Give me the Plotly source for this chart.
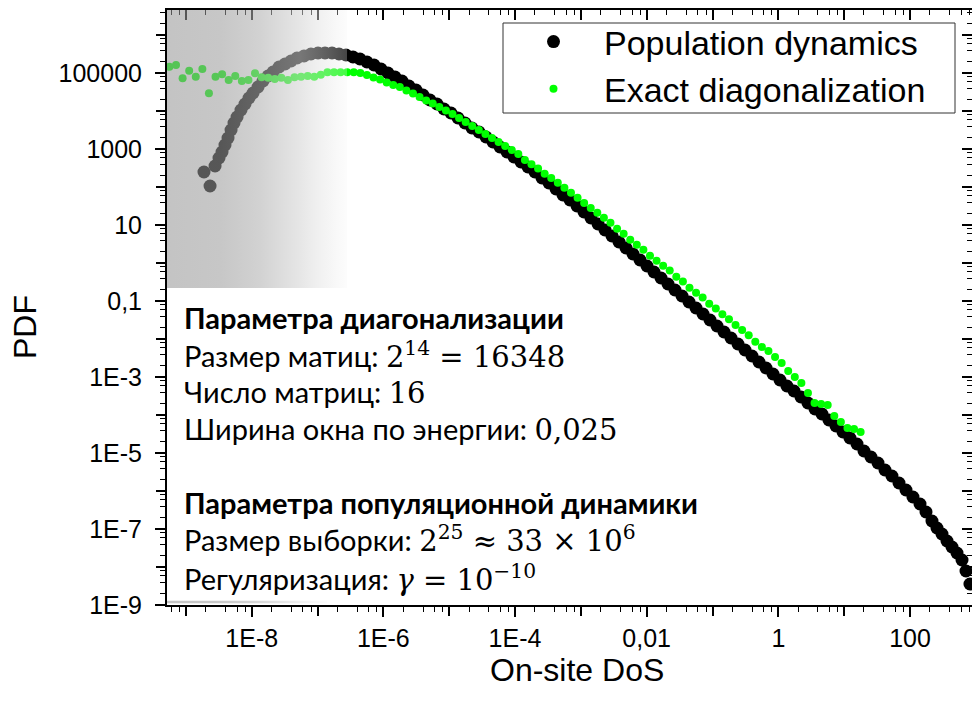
import base64
import plotly.graph_objects as go

# ---------------- data (log10 values) ----------------
series_names = ["Population dynamics", "Exact diagonalization"]

pop_log_dos = [-8.725, -8.633, -8.557, -8.497, -8.451, -8.406, -8.360, -8.314, -8.269, -8.223,
               -8.163, -8.102, -8.041, -7.980, -7.904, -7.828, -7.752, -7.676, -7.585, -7.494,
               -7.403, -7.312, -7.206, -7.100, -6.993, -6.887, -6.780, -6.674, -6.568, -6.461,
               -6.355, -6.249, -6.142, -6.036, -5.930, -5.823, -5.717, -5.611, -5.504, -5.398,
               -5.292, -5.185, -5.079, -4.973, -4.866, -4.760, -4.654, -4.547, -4.441, -4.335,
               -4.228, -4.122, -4.016, -3.909, -3.803, -3.697, -3.590, -3.484, -3.377, -3.271,
               -3.165, -3.058, -2.952, -2.846, -2.739, -2.633, -2.527, -2.420, -2.314, -2.208,
               -2.101, -1.995, -1.889, -1.782, -1.676, -1.570, -1.463, -1.357, -1.251, -1.144,
               -1.038, -0.932, -0.825, -0.719, -0.613, -0.506, -0.400, -0.294, -0.187, -0.081,
               0.025, 0.131, 0.238, 0.344, 0.450, 0.557, 0.663, 0.769, 0.876, 0.982,
               1.088, 1.195, 1.301, 1.407, 1.514, 1.620, 1.726, 1.833, 1.939, 2.045,
               2.152, 2.243, 2.334, 2.410, 2.486, 2.562, 2.638, 2.714, 2.790, 2.851, 2.911]
pop_log_pdf = [2.395, 2.026, 2.553, 2.763, 2.921, 3.105, 3.289, 3.500, 3.684, 3.842,
               4.026, 4.184, 4.342, 4.474, 4.632, 4.789, 4.921, 5.026, 5.158, 5.237,
               5.316, 5.395, 5.447, 5.500, 5.526, 5.526, 5.526, 5.500, 5.474, 5.421,
               5.368, 5.289, 5.211, 5.105, 5.000, 4.895, 4.789, 4.658, 4.553, 4.421,
               4.289, 4.184, 4.053, 3.947, 3.816, 3.684, 3.553, 3.447, 3.316, 3.184,
               3.053, 2.921, 2.789, 2.658, 2.526, 2.395, 2.237, 2.105, 1.947, 1.789,
               1.658, 1.500, 1.342, 1.184, 1.026, 0.868, 0.711, 0.553, 0.395, 0.237,
               0.079, -0.079, -0.237, -0.395, -0.553, -0.711, -0.868, -1.026, -1.184, -1.342,
               -1.500, -1.658, -1.816, -1.974, -2.132, -2.289, -2.447, -2.605, -2.763, -2.921,
               -3.079, -3.237, -3.368, -3.526, -3.684, -3.842, -3.974, -4.132, -4.289, -4.447,
               -4.605, -4.763, -4.947, -5.105, -5.263, -5.447, -5.605, -5.789, -5.974, -6.158,
               -6.342, -6.553, -6.789, -6.974, -7.132, -7.316, -7.474, -7.632, -7.816, -8.105, -8.447]

ed_log_dos = [-9.25, -9.15, -9.05, -8.95, -8.85, -8.75, -8.65, -8.55, -8.45, -8.35,
              -8.25, -8.15, -8.05, -7.95, -7.85, -7.75, -7.65, -7.55, -7.45, -7.35,
              -7.25, -7.15, -7.05, -6.95, -6.85, -6.75, -6.65, -6.55, -6.45, -6.35,
              -6.25, -6.15, -6.05, -5.95, -5.85, -5.75, -5.65, -5.55, -5.45, -5.35,
              -5.25, -5.15, -5.05, -4.95, -4.85, -4.75, -4.65, -4.55, -4.45, -4.35,
              -4.25, -4.15, -4.05, -3.95, -3.85, -3.75, -3.65, -3.55, -3.45, -3.35,
              -3.25, -3.15, -3.05, -2.95, -2.85, -2.75, -2.65, -2.55, -2.45, -2.35,
              -2.25, -2.15, -2.05, -1.95, -1.85, -1.75, -1.65, -1.55, -1.45, -1.35,
              -1.25, -1.15, -1.05, -0.95, -0.85, -0.75, -0.65, -0.55, -0.45, -0.35,
              -0.25, -0.15, -0.05, 0.05, 0.15, 0.25, 0.35, 0.45, 0.55, 0.65,
              0.75, 0.85, 0.95, 1.05, 1.15, 1.25]
ed_log_pdf = [5.166, 5.211, 4.861, 5.061, 4.903, 5.105, 4.466, 4.903, 4.966, 4.816,
              4.921, 4.789, 4.816, 4.992, 4.887, 4.876, 4.842, 4.876, 4.816, 4.887,
              4.903, 4.921, 4.903, 4.955, 5.018, 5.018, 5.018, 5.018, 5.018, 5.000,
              4.947, 4.882, 4.829, 4.750, 4.684, 4.632, 4.539, 4.461, 4.368, 4.276,
              4.197, 4.105, 4.013, 3.921, 3.816, 3.711, 3.605, 3.500, 3.395, 3.289,
              3.184, 3.079, 2.974, 2.868, 2.710, 2.600, 2.490, 2.350, 2.240, 2.110,
              1.980, 1.850, 1.720, 1.580, 1.450, 1.320, 1.190, 1.060, 0.900, 0.770,
              0.610, 0.480, 0.350, 0.190, 0.060, -0.070, -0.200, -0.360, -0.490, -0.650,
              -0.780, -0.910, -1.070, -1.200, -1.350, -1.480, -1.630, -1.760, -1.900, -2.070,
              -2.210, -2.316, -2.474, -2.632, -2.842, -3.000, -3.158, -3.421, -3.684, -3.711,
              -3.737, -4.026, -4.184, -4.342, -4.368, -4.447]

# labelled decades and unlabelled decades
x_label_vals = [1e-8, 1e-6, 1e-4, 1e-2, 1e0, 1e2]
x_label_text = ["1E-8", "1E-6", "1E-4", "0,01", "1", "100"]
x_plain_decades = [1e-9, 1e-7, 1e-5, 1e-3, 1e-1, 1e1]
y_label_vals = [1e-9, 1e-7, 1e-5, 1e-3, 1e-1, 1e1, 1e3, 1e5]
y_label_text = ["1E-9", "1E-7", "1E-5", "1E-3", "0,1", "10", "1000", "100000"]
y_plain_decades = [1e-8, 1e-6, 1e-4, 1e-2, 1e0, 1e2, 1e4, 1e6]
minor_mantissas = [2, 4, 6, 8]

x_title = "On-site DoS"
y_title = "PDF"

math = '<span style="font-family:DejaVu Serif">{}</span>'
info_lines = [
    "<b>Параметра диагонализации</b>",
    "Размер матиц: " + math.format("2<sup>14</sup> = 16348"),
    "Число матриц: " + math.format("16"),
    "Ширина окна по энергии: " + math.format("0,025"),
    "<b>Параметра популяционной динамики</b>",
    "Размер выборки: " + math.format("2<sup>25</sup> ≈ 33 × 10<sup>6</sup>"),
    "Регуляризация: " + math.format("<i>γ</i> = 10<sup>−10</sup>"),
]
info_line_px = [318, 355, 392, 429, 503, 539, 578]

# ---------------- derived values ----------------
pop_dos = [10 ** v for v in pop_log_dos]
pop_pdf = [10 ** v for v in pop_log_pdf]
ed_dos = [10 ** v for v in ed_log_dos]
ed_pdf = [10 ** v for v in ed_log_pdf]
x_all_decades = sorted(x_label_vals + x_plain_decades)
y_all_decades = sorted(y_label_vals + y_plain_decades)
x_minor = [m * 10.0 ** e for e in range(-10, 3) for m in minor_mantissas]
y_minor = [m * 10.0 ** e for e in range(-10, 7) for m in minor_mantissas]

X_RANGE = [-9.287, 2.942]
Y_RANGE = [-9.0, 6.658]
ARIAL = "Liberation Sans, Arial, sans-serif"
TICK_FONT = dict(family=ARIAL, size=25, color="black")
TEXT_FONT = "Lato, Carlito, Noto Sans, sans-serif"


def px_x(p):
    return (p - 167) / 805


def px_y(p):
    return (605 - p) / 595


def gradient_uri(w, h):
    stops = [(0.0, 150, 0.565), (0.3, 155, 0.56), (0.52, 177, 0.575),
             (0.74, 211, 0.565), (0.9, 230, 0.40), (1.0, 245, 0.28)]
    st = "".join(
        f"<stop offset='{o}' stop-color='rgb({g},{g},{g})' stop-opacity='{a}'/>"
        for o, g, a in stops)
    svg = (f"<svg xmlns='http://www.w3.org/2000/svg' width='{w}' height='{h}' "
           f"viewBox='0 0 {w} {h}' preserveAspectRatio='none'><defs>"
           f"<linearGradient id='g' x1='0' y1='0' x2='1' y2='0'>{st}</linearGradient>"
           f"</defs><rect x='0' y='0' width='{w}' height='{h}' fill='url(#g)'/></svg>")
    return "data:image/svg+xml;base64," + base64.b64encode(svg.encode()).decode()


fig = go.Figure()
fig.add_trace(go.Scatter(
    x=pop_dos, y=pop_pdf, mode="markers", name=series_names[0],
    marker=dict(color="black", size=13, line=dict(width=0)),
))
fig.add_trace(go.Scatter(
    x=ed_dos, y=ed_pdf, mode="markers", name=series_names[1],
    marker=dict(color="#00ff00", size=8, line=dict(width=0)),
))
# helper traces so the extra tick axes are drawn
fig.add_trace(go.Scatter(x=[None], y=[None], xaxis="x2", yaxis="y2",
                         showlegend=False, hoverinfo="skip"))
fig.add_trace(go.Scatter(x=[None], y=[None], xaxis="x3", yaxis="y3",
                         showlegend=False, hoverinfo="skip"))

base_x = dict(type="log", range=X_RANGE, tickmode="array", showgrid=False,
              zeroline=False, tickcolor="black", tickwidth=1.6, ticklen=10)
base_y = dict(type="log", range=Y_RANGE, tickmode="array", showgrid=False,
              zeroline=False, tickcolor="black", tickwidth=1.6, ticklen=10)
minor_x_out = dict(tickmode="array", tickvals=x_minor, ticks="outside",
                   ticklen=5, tickcolor="black", tickwidth=1.4)
minor_y_out = dict(tickmode="array", tickvals=y_minor, ticks="outside",
                   ticklen=5, tickcolor="black", tickwidth=1.4)
minor_x_in = dict(minor_x_out, ticks="inside")
minor_y_in = dict(minor_y_out, ticks="inside")

fig.update_layout(
    width=972, height=704,
    margin=dict(l=167, r=0, t=10, b=99, pad=0),
    paper_bgcolor="white", plot_bgcolor="white",
    showlegend=True,
    # main axes: labelled decades + minor ticks
    xaxis=dict(**base_x, tickvals=x_label_vals, ticktext=x_label_text, ticks="outside",
               showline=True, linecolor="black", linewidth=2,
               tickfont=TICK_FONT, ticklabelstandoff=0, minor=minor_x_out),
    yaxis=dict(**base_y, tickvals=y_label_vals, ticktext=y_label_text, ticks="outside",
               showline=True, linecolor="black", linewidth=2,
               tickfont=TICK_FONT, ticklabelstandoff=8, minor=minor_y_out),
    # top / right frame with inward ticks
    xaxis2=dict(**base_x, tickvals=x_all_decades, overlaying="x", side="top",
                anchor="y", ticks="inside", showticklabels=False, showline=True,
                linecolor="black", linewidth=2, minor=minor_x_in),
    yaxis2=dict(**base_y, tickvals=y_all_decades, overlaying="y", side="right",
                anchor="x", ticks="inside", showticklabels=False, showline=True,
                linecolor="black", linewidth=2, minor=minor_y_in),
    # unlabelled decade ticks on bottom / left
    xaxis3=dict(**base_x, tickvals=x_plain_decades, overlaying="x", side="bottom",
                anchor="y", ticks="outside", showticklabels=False, showline=False),
    yaxis3=dict(**base_y, tickvals=y_plain_decades, overlaying="y", side="left",
                anchor="x", ticks="outside", showticklabels=False, showline=False),
    legend=dict(x=px_x(503), y=px_y(13), xanchor="left", yanchor="top",
                bgcolor="rgba(0,0,0,0)", borderwidth=0,
                font=dict(family=ARIAL, size=34, color="black"),
                itemwidth=91, tracegroupgap=0),
    shapes=[dict(type="rect", xref="paper", yref="paper",
                 x0=px_x(503), x1=px_x(955), y0=px_y(113), y1=px_y(23),
                 line=dict(color="#333333", width=1), fillcolor="white",
                 layer="below")],
    images=[
        dict(source=gradient_uri(180, 278), xref="paper", yref="paper",
             x=0, y=1, sizex=180 / 805, sizey=278 / 595, xanchor="left",
             yanchor="top", sizing="stretch", layer="above"),
        dict(source=gradient_uri(160, 3), xref="paper", yref="paper",
             x=0, y=4.5 / 595, sizex=160 / 805, sizey=3 / 595, xanchor="left",
             yanchor="top", sizing="stretch", layer="above"),
    ],
)

annotations = [
    dict(text=y_title, xref="paper", yref="paper", x=px_x(25), y=px_y(327),
         xanchor="center", yanchor="middle", textangle=-90, showarrow=False,
         font=dict(family=ARIAL, size=32, color="black")),
    dict(text=x_title, xref="paper", yref="paper", x=px_x(577), y=px_y(670),
         xanchor="center", yanchor="middle", showarrow=False,
         font=dict(family=ARIAL, size=32, color="black")),
]
for line, lp in zip(info_lines, info_line_px):
    annotations.append(dict(text=line, xref="paper", yref="paper", x=px_x(182),
                            y=px_y(lp), xanchor="left", yanchor="middle",
                            showarrow=False, align="left",
                            font=dict(family=TEXT_FONT, size=29, color="black")))
fig.update_layout(annotations=annotations)

fig.write_html("out.html",
               config={"displayModeBar": False},
               post_script="document.body.style.margin='0';"
                           "document.body.style.overflow='hidden';")
